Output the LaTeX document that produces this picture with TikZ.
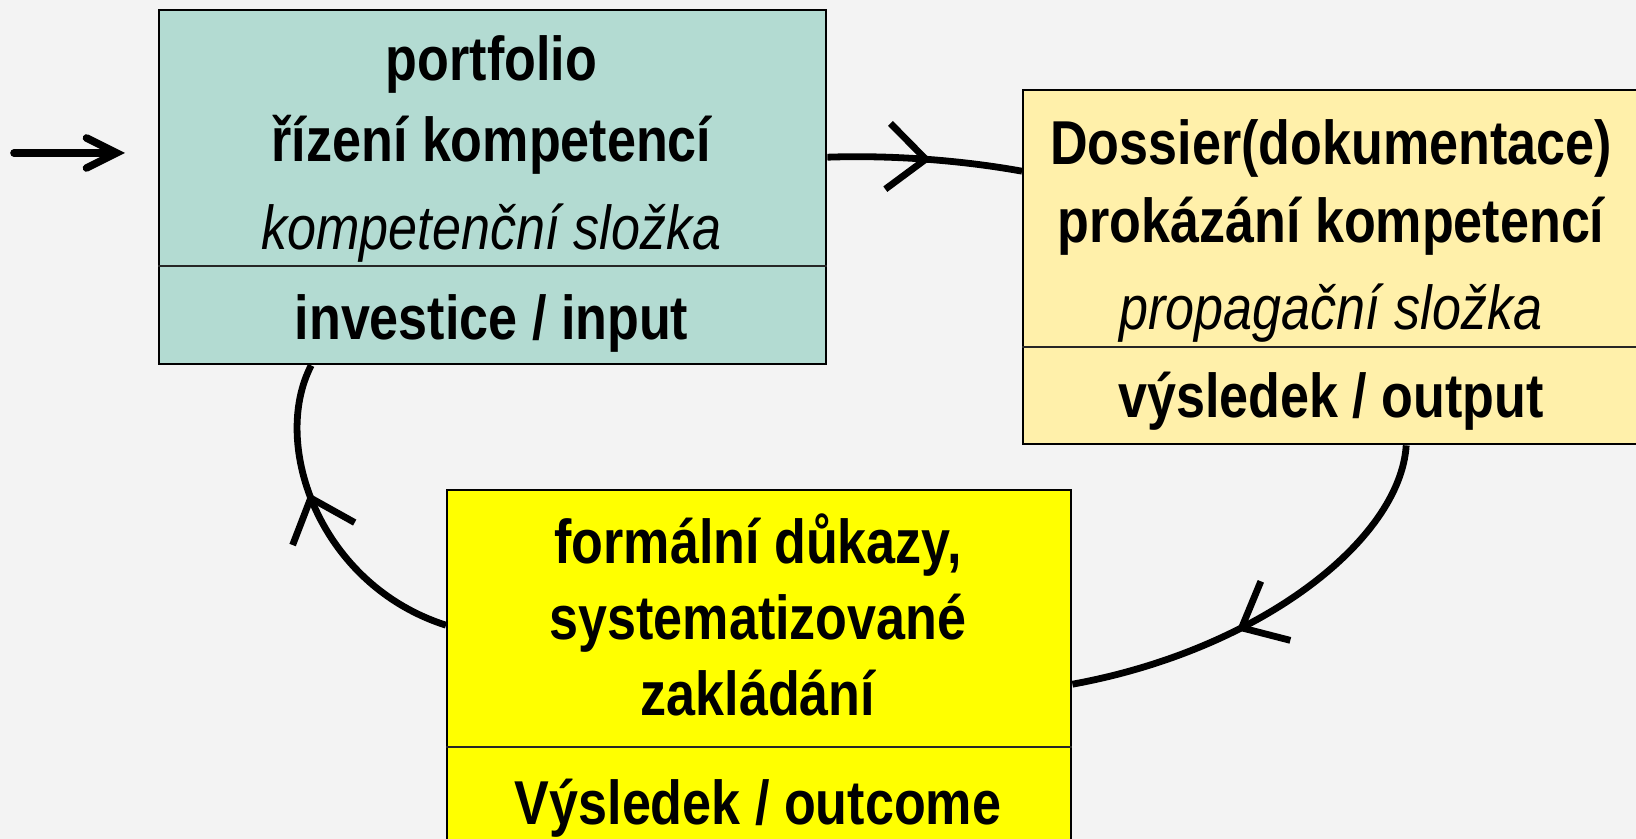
\documentclass[tikz,border=0pt]{standalone}
\usepackage{fontspec}
\setmainfont[FakeStretch=0.84]{Liberation Sans}
\usetikzlibrary{arrows.meta,decorations.markings}
\definecolor{bgc}{RGB}{243,243,243}
\definecolor{tealc}{RGB}{179,219,210}
\definecolor{palec}{RGB}{255,240,170}
\definecolor{yelc}{RGB}{255,255,0}
\tikzset{
  boxst/.style={draw=black, line width=1.2pt, inner sep=0pt, anchor=north west},
  divst/.style={draw=black!85, line width=1.2pt},
  bt/.style={anchor=base, inner sep=0pt, font=\fontsize{31}{37}\selectfont\bfseries},
  it/.style={anchor=base, inner sep=0pt, font=\fontsize{31}{37}\selectfont\itshape},
  flow/.style={line width=3.4pt, postaction={decorate},
    decoration={markings, mark=at position #1 with {\arrow{Straight Barb[length=19pt,width=33pt]}}}},
}
\begin{document}
\begin{tikzpicture}[x=0.5pt,y=-0.5pt]
\fill[bgc] (0,0) rectangle (1636,839);
\useasboundingbox (0,0) rectangle (1636,839);
\clip (0,0) rectangle (1636,839);
% boxes
\node (b1) [boxst, fill=tealc, minimum width=333.5pt, minimum height=177pt] at (158,9) {};
\node (b2) [boxst, fill=palec, minimum width=309pt, minimum height=177pt] at (1022,89) {};
\node (b3) [boxst, fill=yelc, minimum width=312pt, minimum height=194pt] at (446,489) {};
% dividers
\draw[divst] (b1.west |- 0,266) -- (b1.east |- 0,266);
\draw[divst] (b2.west |- 0,347) -- (b2.east |- 0,347);
\draw[divst] (b3.west |- 0,747) -- (b3.east |- 0,747);
% texts box1
\node (t11) [bt] at (491.5,81) {portfolio};
\node (t12) [bt] at (491.5,162) {řízení kompetencí};
\node (t13) [it] at (491.5,250) {kompetenční složka};
\node (t14) [bt] at (491.5,339) {investice / input};
% texts box2
\node (t21) [bt] at (1331,165) {Dossier(dokumentace)};
\node (t22) [bt] at (1331,243) {prokázání kompetencí};
\node (t23) [it] at (1331,329) {propagační složka};
\node (t24) [bt] at (1331,417) {výsledek / output};
% texts box3
\node (t31) [bt] at (758,563) {formální důkazy,};
\node (t32) [bt] at (758,639) {systematizované};
\node (t33) [bt] at (758,715) {zakládání};
\node (t34) [bt] at (758,824) {Výsledek / outcome};
% entry arrow
\coordinate (in0) at (14,153);
\coordinate (in1) at (125,153);
\draw[line width=3.8pt, line cap=round, -{Straight Barb[length=15pt,width=15pt,line cap=round]}] (in0) -- (in1);
% cycle connectors
\draw[flow=0.53] ([yshift=15pt]b1.east) .. controls (890,155) and (960,160) .. ([yshift=48pt]b2.west);
\draw[flow=0.6] ([xshift=37pt]b2.south) .. controls (1400,540) and (1260,650) .. (b3.east);
\draw[flow=0.6] ([yshift=29.5pt]b3.west) .. controls (320,585) and (270,445) .. ([xshift=-90.75pt]b1.south);
\end{tikzpicture}
\end{document}
